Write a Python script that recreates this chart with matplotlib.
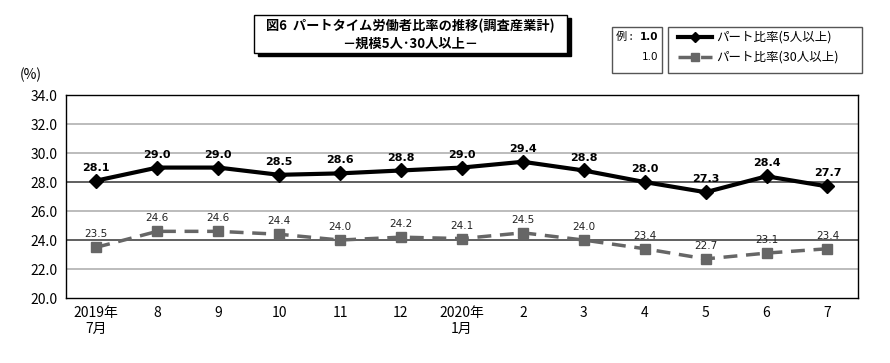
import matplotlib
matplotlib.use("Agg")
import matplotlib.pyplot as plt
from matplotlib.patches import Rectangle
from matplotlib.lines import Line2D

plt.rcParams['font.family'] = ['Noto Sans CJK JP', 'DejaVu Sans']

months = ['2019年\n7月', '8', '9', '10', '11', '12', '2020年\n1月', '2', '3', '4', '5', '6', '7']
part5 = [28.1, 29.0, 29.0, 28.5, 28.6, 28.8, 29.0, 29.4, 28.8, 28.0, 27.3, 28.4, 27.7]
part30 = [23.5, 24.6, 24.6, 24.4, 24.0, 24.2, 24.1, 24.5, 24.0, 23.4, 22.7, 23.1, 23.4]
yticks = [20, 22, 24, 26, 28, 30, 32, 34]

fig = plt.figure(figsize=(8.9, 3.63), dpi=100)
ax = fig.add_axes([0.074, 0.179, 0.89, 0.559])
x = list(range(len(months)))

for t in yticks[1:-1]:
    col = '#444444' if t in (24, 28) else '#b0b0b0'
    ax.axhline(t, color=col, lw=1.2, zorder=1)

ax.plot(x, part5, color='black', lw=3, marker='D', ms=7, zorder=3)
ax.plot(x, part30, color='#666666', lw=2.5, ls=(0, (4, 2.5)), marker='s', ms=7,
        zorder=3)

for xi, v in zip(x, part5):
    ax.text(xi, v + 0.55, f'{v:.1f}', ha='center', va='bottom', fontsize=8,
            fontweight='bold', family='DejaVu Sans', zorder=4)
for xi, v in zip(x, part30):
    ax.text(xi, v + 0.55, f'{v:.1f}', ha='center', va='bottom', fontsize=7.5,
            color='#222222', family='DejaVu Sans', zorder=4)

ax.set_xlim(-0.5, len(months) - 0.5)
ax.set_ylim(20, 34)
ax.set_yticks(yticks)
ax.set_yticklabels([f'{t:.1f}' for t in yticks], fontsize=10)
ax.set_xticks(x)
ax.set_xticklabels(months, fontsize=10, linespacing=1.1)
ax.tick_params(length=0, pad=6)
for s in ax.spines.values():
    s.set_color('black')
    s.set_linewidth(1)

fig.text(0.022, 0.795, '(%)', fontsize=10, ha='left', va='center')

# title box with shadow
fig.patches.append(Rectangle((0.290, 0.845), 0.352, 0.105, transform=fig.transFigure,
                             facecolor='black', edgecolor='black', zorder=1))
fig.patches.append(Rectangle((0.285, 0.855), 0.352, 0.105, transform=fig.transFigure,
                             facecolor='white', edgecolor='black', lw=1, zorder=2))
fig.text(0.461, 0.928, '図6  パートタイム労働者比率の推移(調査産業計)', ha='center',
         va='center', fontsize=9.5, fontweight='bold', zorder=3)
fig.text(0.461, 0.880, '－規模5人･30人以上－', ha='center', va='center',
         fontsize=9.5, fontweight='bold', zorder=3)

# example box
fig.patches.append(Rectangle((0.688, 0.800), 0.056, 0.125, transform=fig.transFigure,
                             facecolor='white', edgecolor='#555555', lw=1))
fig.text(0.692, 0.898, '例 :', ha='left', va='center', fontsize=8)
fig.text(0.740, 0.898, '1.0', ha='right', va='center', fontsize=7.5,
         fontweight='bold', family='DejaVu Sans')
fig.text(0.740, 0.842, '1.0', ha='right', va='center', fontsize=7.5,
         family='DejaVu Sans')

# legend box
fig.patches.append(Rectangle((0.751, 0.800), 0.218, 0.125, transform=fig.transFigure,
                             facecolor='white', edgecolor='#555555', lw=1))
fig.lines.append(Line2D([0.762, 0.781, 0.800], [0.898, 0.898, 0.898],
                        transform=fig.transFigure, color='black', lw=3,
                        marker='D', ms=5, markevery=[1]))
fig.lines.append(Line2D([0.762, 0.781, 0.800], [0.842, 0.842, 0.842],
                        transform=fig.transFigure, color='#666666', lw=2.5,
                        ls=(0, (4, 2.5)), marker='s', ms=6, markevery=[1]))
fig.text(0.805, 0.898, 'パート比率(5人以上)', ha='left', va='center', fontsize=9)
fig.text(0.805, 0.842, 'パート比率(30人以上)', ha='left', va='center', fontsize=9)

fig.savefig('out.png', dpi=100)
